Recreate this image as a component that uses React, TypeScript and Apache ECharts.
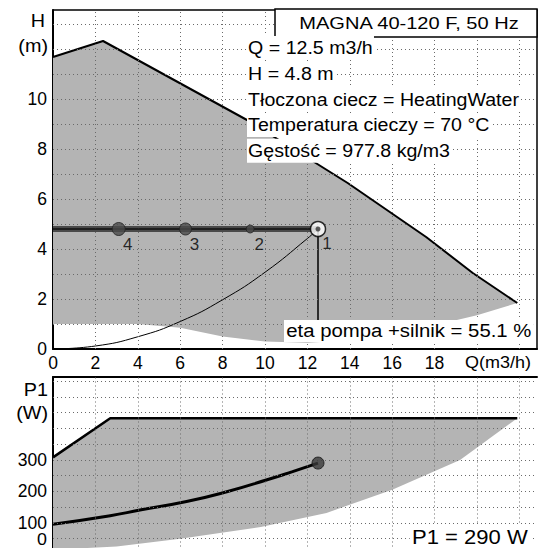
import React, { useEffect, useRef } from "react";
import * as echarts from "echarts";

// ---------- data ----------
const Q_MAX = 22.83;
const H_AXIS_MAX = 13.56;
const P_AXIS_MAX = 563;

// QH max curve
const maxQ = [0, 2.36, 9.15, 13.9, 17.6, 19.8, 21.9];
const maxH = [11.68, 12.32, 9.16, 6.64, 4.48, 3.04, 1.84];
// QH min boundary of the shaded area (right to left)
const minQ = [21.9, 20, 18, 16, 14, 12, 10, 8, 6, 4, 0];
const minH = [1.84, 1.35, 0.95, 0.6, 0.35, 0.25, 0.3, 0.5, 0.85, 1.0, 1.0];
// system curve
const sysQ = [0, 2, 4, 6, 8, 10, 12, 12.5];
const sysH = [0, 0.12, 0.49, 1.1, 1.97, 3.07, 4.42, 4.8];
// duty point
const dutyQ = 12.5;
const dutyH = 4.8;
const dropH = 1.1;
// operating points on the constant pressure line
const ptQ = [3.1, 6.25, 9.3];
const ptLabels = ["4", "3", "2"];
const ptSizes = [13, 12, 8];

// P1 max curve
const p1MaxQ = [0, 2.7, 21.9];
const p1MaxP = [308, 432, 432];
// P1 min boundary (right to left)
const p1MinQ = [21.9, 19.2, 16.0, 12.9, 9.8, 6, 3, 0];
const p1MinP = [432, 300, 205, 132, 87, 50, 25, 15];
// P1 operating curve
const p1Q = [0, 2.7, 4.1, 6.3, 8.2, 10.1, 11.3, 12.5];
const p1P = [96, 123, 141, 168, 199, 237, 263, 290];
const p1Duty = 290;

// tick labels and grid-line positions
const xLabels = [0, 2, 4, 6, 8, 10, 12, 14, 16, 18];
const hLabels = [0, 2, 4, 6, 8, 10];
const pLabels = [100, 200, 300];
const qGrid = [2, 4, 6, 8, 10, 12, 14, 16, 18, 20, 22];
const hGrid = [1, 2, 3, 4, 5, 6, 7, 8, 9, 10, 11, 12, 13];
const pGrid = [50, 100, 150, 200, 250, 300, 350, 400, 450, 500, 550];

const infoLines = [
  "Q = 12.5 m3/h",
  "H = 4.8 m",
  "Tłoczona ciecz = HeatingWater",
  "Temperatura cieczy = 70 °C",
  "Gęstość = 977.8 kg/m3",
];
const title = "MAGNA 40-120 F, 50 Hz";
const etaText = "eta pompa +silnik = 55.1 %";
const p1Text = "P1 = 290 W";

const FONT = "'Liberation Sans', Arial, sans-serif";
const SHADE = "#b4b4b4";

function zip(a: number[], b: number[]) {
  return a.map((v, i) => [v, b[i]]);
}

function areaSeries(idx: number, q1: number[], v1: number[], q2: number[], v2: number[]) {
  return {
    type: "custom",
    xAxisIndex: idx,
    yAxisIndex: idx,
    silent: true,
    z: 1,
    data: [[0, 0]],
    renderItem: (_p: any, api: any) => {
      const pts: number[][] = [];
      q1.forEach((q, i) => pts.push(api.coord([q, v1[i]])));
      q2.forEach((q, i) => pts.push(api.coord([q, v2[i]])));
      return { type: "polygon", shape: { points: pts }, style: { fill: SHADE } };
    },
  };
}

function gridLines(idx: number, xs: number[], ys: number[]) {
  return {
    type: "line",
    xAxisIndex: idx,
    yAxisIndex: idx,
    z: 0,
    silent: true,
    data: [[0, 0]],
    showSymbol: false,
    lineStyle: { opacity: 0 },
    markLine: {
      silent: true,
      symbol: ["none", "none"],
      label: { show: false },
      lineStyle: { color: "#6a6a6a", type: [1, 3], width: 1 },
      data: [...xs.map((v) => ({ xAxis: v })), ...ys.map((v) => ({ yAxis: v }))],
    },
  };
}

function txt(text: string, x: number, y: number, size: number, sx: number, align: string, extra: any = {}) {
  return {
    type: "text",
    z: 101,
    x,
    y,
    scaleX: sx,
    style: { text, x: 0, y: 0, align, verticalAlign: "middle", font: `${size}px ${FONT}`, fill: "#000", ...extra },
  };
}

export default function App() {
  const ref = useRef<HTMLDivElement>(null);
  useEffect(() => {
    document.body.style.margin = "0";
    document.body.style.overflow = "hidden";
    const chart = echarts.init(ref.current!, undefined, { renderer: "svg" });
    const lbl = { color: "#000", fontSize: 17.5, fontFamily: FONT };
    const frame = (gridIndex: number, position: string, max: number, width: number) => ({
      type: "value", gridIndex, min: 0, max, position,
      axisLine: { show: true, onZero: false, lineStyle: { color: "#000", width } },
      axisTick: { show: false }, splitLine: { show: false }, axisLabel: { show: false },
    });
    const option: any = {
      animation: false,
      backgroundColor: "#fff",
      grid: [
        { left: 53, top: 10, width: 484, height: 339 },
        { left: 53, top: 377, width: 484, height: 177.5 },
      ],
      xAxis: [
        {
          type: "value", gridIndex: 0, min: 0, max: Q_MAX, interval: 2,
          axisLine: { show: true, lineStyle: { color: "#000", width: 2 } },
          axisTick: { show: false },
          splitLine: { show: false },
          axisLabel: { ...lbl, margin: 5, showMaxLabel: false, formatter: (v: number) => (xLabels.includes(v) ? String(v) : "") },
        },
        {
          type: "value", gridIndex: 1, min: 0, max: Q_MAX, interval: 2,
          axisLine: { show: true, lineStyle: { color: "#000", width: 2 } },
          axisTick: { show: false },
          splitLine: { show: false },
          axisLabel: { show: false },
        },
        frame(1, "top", Q_MAX, 2),
        frame(0, "top", Q_MAX, 1.5),
      ],
      yAxis: [
        {
          type: "value", gridIndex: 0, min: 0, max: H_AXIS_MAX, interval: 1,
          axisLine: { show: true, lineStyle: { color: "#000", width: 2 } },
          axisTick: { show: false },
          splitLine: { show: false },
          axisLabel: { ...lbl, margin: 6, showMaxLabel: false, formatter: (v: number) => (hLabels.includes(v) ? String(v) : "") },
        },
        {
          type: "value", gridIndex: 1, min: 0, max: P_AXIS_MAX, interval: 50,
          axisLine: { show: true, lineStyle: { color: "#000", width: 2 } },
          axisTick: { show: false },
          splitLine: { show: false },
          axisLabel: { ...lbl, margin: 6, showMaxLabel: false, formatter: (v: number) => (pLabels.includes(v) ? String(v) : "") },
        },
        frame(0, "right", H_AXIS_MAX, 1.5),
      ],
      series: [
        gridLines(0, qGrid, hGrid),
        gridLines(1, qGrid, pGrid),
        areaSeries(0, maxQ, maxH, minQ, minH),
        {
          type: "line", xAxisIndex: 0, yAxisIndex: 0, data: zip(maxQ, maxH), symbol: "none", z: 3,
          lineStyle: { color: "#000", width: 2 },
        },
        {
          type: "line", xAxisIndex: 0, yAxisIndex: 0, data: zip(sysQ, sysH), symbol: "none", smooth: true, z: 3,
          lineStyle: { color: "#000", width: 1 },
        },
        {
          type: "line", xAxisIndex: 0, yAxisIndex: 0, data: [[dutyQ, dutyH], [dutyQ, dropH]], symbol: "none", z: 3,
          lineStyle: { color: "#000", width: 1.5 },
        },
        {
          type: "line", xAxisIndex: 0, yAxisIndex: 0, data: [[0, dutyH], [dutyQ, dutyH]], symbol: "none", z: 4,
          lineStyle: { color: "#4a4a4a", width: 6 },
        },
        {
          type: "line", xAxisIndex: 0, yAxisIndex: 0, data: [[0, dutyH], [dutyQ, dutyH]], symbol: "none", z: 5,
          lineStyle: { color: "#111", width: 1.5 },
        },
        {
          type: "scatter", xAxisIndex: 0, yAxisIndex: 0, z: 6,
          data: ptQ.map((q, i) => ({
            value: [q, dutyH],
            symbolSize: ptSizes[i],
            label: { show: true, formatter: ptLabels[i], position: "inside", offset: [9, 15], color: "#000", fontSize: 17, fontFamily: FONT },
          })),
          itemStyle: { color: "#4a4a4a", borderColor: "#222", borderWidth: 1 },
        },
        {
          type: "scatter", xAxisIndex: 0, yAxisIndex: 0, z: 7,
          data: [{
            value: [dutyQ, dutyH], symbolSize: 15,
            label: { show: true, formatter: "1", position: "inside", offset: [9, 14], color: "#000", fontSize: 17, fontFamily: FONT },
          }],
          itemStyle: { color: "#fff", borderColor: "#000", borderWidth: 1.5 },
        },
        {
          type: "scatter", xAxisIndex: 0, yAxisIndex: 0, z: 8, data: [[dutyQ, dutyH]], symbolSize: 5,
          itemStyle: { color: "#333" },
        },
        areaSeries(1, p1MaxQ, p1MaxP, p1MinQ, p1MinP),
        {
          type: "line", xAxisIndex: 1, yAxisIndex: 1, data: zip(p1MaxQ, p1MaxP), symbol: "none", z: 3,
          lineStyle: { color: "#000", width: 2.5 },
        },
        {
          type: "line", xAxisIndex: 1, yAxisIndex: 1, data: zip(p1Q, p1P), symbol: "none", smooth: true, z: 3,
          lineStyle: { color: "#000", width: 3 },
        },
        {
          type: "scatter", xAxisIndex: 1, yAxisIndex: 1, z: 6, data: [[dutyQ, p1Duty]], symbolSize: 12,
          itemStyle: { color: "#3a3a3a", borderColor: "#111", borderWidth: 1 },
        },
      ],
      graphic: [
        txt("H", 45, 21, 18, 1.1, "right"),
        txt("(m)", 48, 46, 18, 1.1, "right"),
        txt("P1", 48, 390, 18, 1.1, "right"),
        txt("(W)", 48, 413, 18, 1.1, "right"),
        txt("0", 47, 539, 17, 1.05, "right"),
        txt("Q(m3/h)", 465, 362, 17, 1.06, "left"),
        { type: "rect", z: 100, shape: { x: 275, y: 9, width: 262, height: 28 }, style: { fill: "#fff", stroke: "#000", lineWidth: 1.5 } },
        txt(title, 409, 23, 17, 1.18, "center"),
        ...infoLines.map((t, i) =>
          txt(t, 247, 48 + i * 25.7, 17.5, 1.12, "left", { backgroundColor: "#fff", padding: [3, 1] })
        ),
        txt(etaText, 284, 331, 18, 1.13, "left", { backgroundColor: "#fff", padding: [2, 2] }),
        txt(p1Text, 530, 537, 19.5, 1.13, "right", { backgroundColor: "#fff", padding: [2, 2] }),
      ],
    };
    chart.setOption(option);
    return () => chart.dispose();
  }, []);
  return <div ref={ref} style={{ width: 538, height: 560 }} />;
}
